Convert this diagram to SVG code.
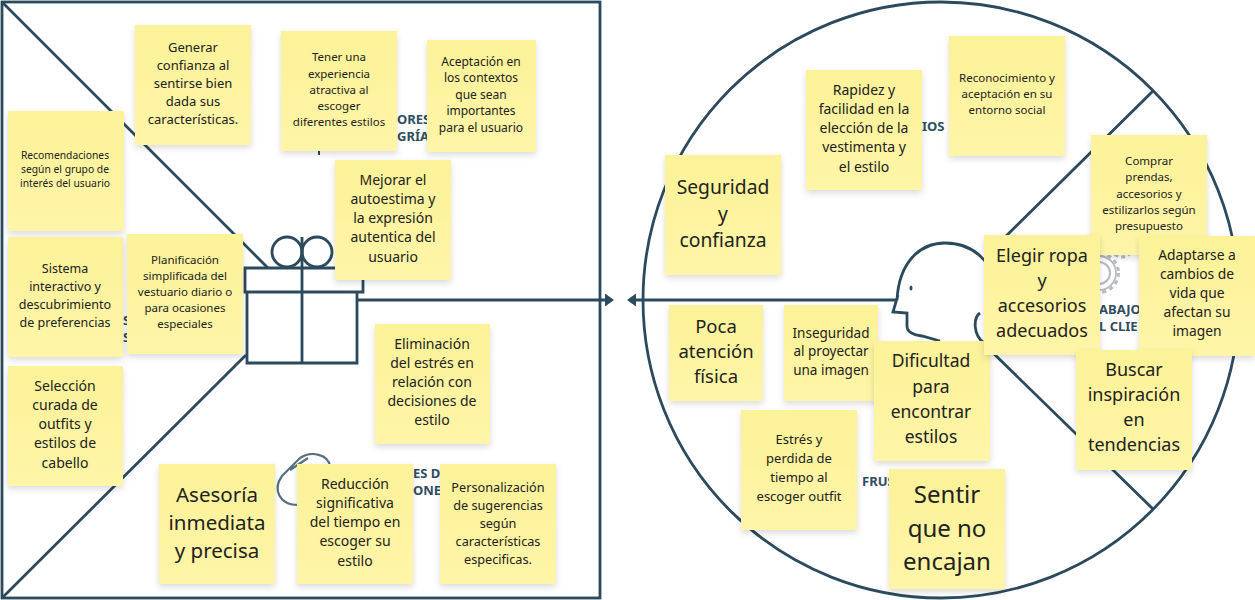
<svg xmlns="http://www.w3.org/2000/svg" width="1255" height="600" viewBox="0 0 1255 600">
<style>
.l{fill:none;stroke:#2b4a5c;stroke-width:2.8}
.f{font-family:"Noto Sans","Open Sans",sans-serif;font-weight:700;fill:#2f4d5f;font-size:13px}
.n rect{fill:url(#g);filter:url(#s)}
.n text{font-family:"Noto Sans","Open Sans",sans-serif;fill:#222;text-anchor:middle}
.g{fill:none;stroke:#b4bdc2}
</style>
<defs>
<linearGradient id="g" x1="0" y1="0" x2="0" y2="1"><stop offset="0" stop-color="#fcf298"/><stop offset="1" stop-color="#fff5a8"/></linearGradient>
<filter id="s" x="-10%" y="-10%" width="120%" height="125%"><feDropShadow dx="0" dy="3" stdDeviation="3" flood-color="#000" flood-opacity=".14"/></filter>
</defs>
<rect width="1255" height="600" fill="#fff"/>
<g id="connectors">
<rect class="l" x="2" y="2" width="598" height="596"/>
<path class="l" d="M2 2L268 268M246 355L2 598M357 300H606"/>
<path d="M605 293.500l9 6.500l-9 6.500z" fill="#2b4a5c"/>
<circle class="l" cx="941" cy="300" r="298"/>
<path class="l" d="M1153 91L1000 242M990 350L1153 509M635 300H897"/>
<path d="M636 293.500l-9 6.500l9 6.500z" fill="#2b4a5c"/>
</g>
<g id="icons">
<path class="l" d="M245 268H363V292H245zM247 292H357V363H247zM302 237V363"/>
<circle class="l" cx="287" cy="252" r="15"/>
<circle class="l" cx="317" cy="252" r="15"/>
<path class="l" d="M897 300C899 262 920 243 945 243C965 243 980 252 990 268M898 295L893 312L907 313V326C907 332 914 335 922 336L940 341M980 313C973 318 973 335 984 343"/>
<ellipse cx="911" cy="288" rx="1.500" ry="2.500" fill="#2b4a5c"/>
<path d="M298 505C280 505 272 490 282 476L300 458C312 450 328 455 330 466M290 470L308 458" fill="none" stroke="#55707f" stroke-width="2.2"/>
<circle class="g" cx="1099" cy="273" r="11" stroke-width="2.200"/>
<circle class="g" cx="1099" cy="273" r="17" stroke-width="1.800"/>
<circle class="g" cx="1099" cy="273" r="19.500" stroke-width="3" stroke-dasharray="4 3.700"/>
<circle class="g" cx="1122" cy="246" r="11" stroke-width="3" stroke-dasharray="4 3"/>
<path d="M319 151V155" stroke="#2b4a5c" stroke-width="2"/>
</g>
<g id="labels">
<text class="f" x="397" y="124">ORES</text>
<text class="f" x="397" y="141">GRÍA</text>
<text class="f" x="922" y="131">IOS</text>
<text class="f" x="123" y="325">S</text>
<text class="f" x="123" y="342">S</text>
<text class="f" x="413" y="478">ES D</text>
<text class="f" x="413" y="495">ONES</text>
<text class="f" x="862" y="486">FRUS</text>
<text class="f" x="1099" y="314">ABAJO</text>
<text class="f" x="1099" y="331">L CLIE</text>
</g>
<g id="n1" class="n"><rect x="135" y="25" width="116" height="120"/><text font-size="13"><tspan x="193" y="52">Generar</tspan><tspan x="193" y="70">confianza al</tspan><tspan x="193" y="88">sentirse bien</tspan><tspan x="193" y="106">dada sus</tspan><tspan x="193" y="124">características.</tspan></text></g>
<g id="n2" class="n"><rect x="281" y="31" width="116" height="120"/><text font-size="11.500"><tspan x="339" y="61">Tener una</tspan><tspan x="339" y="77.500">experiencia</tspan><tspan x="339" y="94">atractiva al</tspan><tspan x="339" y="110">escoger</tspan><tspan x="339" y="126">diferentes estilos</tspan></text></g>
<g id="n3" class="n"><rect x="427" y="40" width="109" height="112"/><text font-size="12"><tspan x="481" y="66">Aceptación en</tspan><tspan x="481" y="82">los contextos</tspan><tspan x="481" y="99">que sean</tspan><tspan x="481" y="115">importantes</tspan><tspan x="481" y="132">para el usuario</tspan></text></g>
<g id="n4" class="n"><rect x="8" y="111" width="116" height="120"/><text font-size="10.300"><tspan x="65" y="159">Recomendaciones</tspan><tspan x="65" y="173">según el grupo de</tspan><tspan x="65" y="187">interés del usuario</tspan></text></g>
<g id="n5" class="n"><rect x="8" y="237" width="115" height="120"/><text font-size="12.500"><tspan x="65" y="273">Sistema</tspan><tspan x="65" y="291">interactivo y</tspan><tspan x="65" y="309">descubrimiento</tspan><tspan x="65" y="327">de preferencias</tspan></text></g>
<g id="n6" class="n"><rect x="127" y="234" width="116" height="120"/><text font-size="11.500"><tspan x="185" y="264">Planificación</tspan><tspan x="185" y="280">simplificada del</tspan><tspan x="185" y="296">vestuario diario o</tspan><tspan x="185" y="312">para ocasiones</tspan><tspan x="185" y="328">especiales</tspan></text></g>
<g id="n7" class="n"><rect x="8" y="366" width="115" height="120"/><text font-size="14"><tspan x="65" y="391">Selección</tspan><tspan x="65" y="410">curada de</tspan><tspan x="65" y="429">outfits y</tspan><tspan x="65" y="448">estilos de</tspan><tspan x="65" y="468">cabello</tspan></text></g>
<g id="n8" class="n"><rect x="335" y="160" width="116" height="120"/><text font-size="14"><tspan x="393" y="185">Mejorar el</tspan><tspan x="393" y="204">autoestima y</tspan><tspan x="393" y="223">la expresión</tspan><tspan x="393" y="242">autentica del</tspan><tspan x="393" y="262">usuario</tspan></text></g>
<g id="n9" class="n"><rect x="375" y="324" width="115" height="120"/><text font-size="14"><tspan x="432" y="349">Eliminación</tspan><tspan x="432" y="368">del estrés en</tspan><tspan x="432" y="387">relación con</tspan><tspan x="432" y="406">decisiones de</tspan><tspan x="432" y="425">estilo</tspan></text></g>
<g id="n10" class="n"><rect x="159" y="464" width="116" height="120"/><text font-size="20.500"><tspan x="217" y="502">Asesoría</tspan><tspan x="217" y="530">inmediata</tspan><tspan x="217" y="558">y precisa</tspan></text></g>
<g id="n11" class="n"><rect x="297" y="464" width="116" height="120"/><text font-size="14"><tspan x="355" y="489">Reducción</tspan><tspan x="355" y="508">significativa</tspan><tspan x="355" y="527">del tiempo en</tspan><tspan x="355" y="546">escoger su</tspan><tspan x="355" y="566">estilo</tspan></text></g>
<g id="n12" class="n"><rect x="440" y="464" width="116" height="120"/><text font-size="12.700"><tspan x="498" y="492">Personalización</tspan><tspan x="498" y="510">de sugerencias</tspan><tspan x="498" y="528">según</tspan><tspan x="498" y="546">características</tspan><tspan x="498" y="564">especificas.</tspan></text></g>
<g id="n13" class="n"><rect x="806" y="70" width="116" height="120"/><text font-size="14"><tspan x="864" y="95">Rapidez y</tspan><tspan x="864" y="114">facilidad en la</tspan><tspan x="864" y="133">elección de la</tspan><tspan x="864" y="152">vestimenta y</tspan><tspan x="864" y="172">el estilo</tspan></text></g>
<g id="n14" class="n"><rect x="949" y="36" width="116" height="120"/><text font-size="11.500"><tspan x="1007" y="82">Reconocimiento y</tspan><tspan x="1007" y="98">aceptación en su</tspan><tspan x="1007" y="114">entorno social</tspan></text></g>
<g id="n15" class="n"><rect x="665" y="155" width="116" height="120"/><text font-size="19.300"><tspan x="723" y="194">Seguridad</tspan><tspan x="723" y="221">y</tspan><tspan x="723" y="247">confianza</tspan></text></g>
<g id="n16" class="n"><rect x="669" y="305" width="94" height="96"/><text font-size="18.500"><tspan x="716" y="333">Poca</tspan><tspan x="716" y="358">atención</tspan><tspan x="716" y="383">física</tspan></text></g>
<g id="n17" class="n"><rect x="784" y="305" width="94" height="96"/><text font-size="13.500"><tspan x="831" y="338">Inseguridad</tspan><tspan x="831" y="356">al proyectar</tspan><tspan x="831" y="375">una imagen</tspan></text></g>
<g id="n18" class="n"><rect x="874" y="341" width="116" height="120"/><text font-size="17.500"><tspan x="931" y="367">Dificultad</tspan><tspan x="931" y="393">para</tspan><tspan x="931" y="418">encontrar</tspan><tspan x="931" y="443">estilos</tspan></text></g>
<g id="n19" class="n"><rect x="741" y="410" width="116" height="120"/><text font-size="13"><tspan x="799" y="444">Estrés y</tspan><tspan x="799" y="463">perdida de</tspan><tspan x="799" y="482">tiempo al</tspan><tspan x="799" y="501">escoger outfit</tspan></text></g>
<g id="n20" class="n"><rect x="889" y="469" width="116" height="120"/><text font-size="24"><tspan x="947" y="503">Sentir</tspan><tspan x="947" y="537">que no</tspan><tspan x="947" y="570">encajan</tspan></text></g>
<g id="n21" class="n"><rect x="1091" y="135" width="116" height="120"/><text font-size="11.500"><tspan x="1149" y="165">Comprar</tspan><tspan x="1149" y="181">prendas,</tspan><tspan x="1149" y="198">accesorios y</tspan><tspan x="1149" y="214">estilizarlos según</tspan><tspan x="1149" y="230">presupuesto</tspan></text></g>
<g id="n22" class="n"><rect x="984" y="235" width="116" height="120"/><text font-size="18"><tspan x="1042" y="262">Elegir ropa</tspan><tspan x="1042" y="287">y</tspan><tspan x="1042" y="312">accesorios</tspan><tspan x="1042" y="337">adecuados</tspan></text></g>
<g id="n23" class="n"><rect x="1139" y="236" width="116" height="120"/><text font-size="13.800"><tspan x="1197" y="260">Adaptarse a</tspan><tspan x="1197" y="279">cambios de</tspan><tspan x="1197" y="298">vida que</tspan><tspan x="1197" y="317">afectan su</tspan><tspan x="1197" y="336">imagen</tspan></text></g>
<g id="n24" class="n"><rect x="1076" y="350" width="116" height="120"/><text font-size="18"><tspan x="1134" y="376">Buscar</tspan><tspan x="1134" y="401">inspiración</tspan><tspan x="1134" y="426">en</tspan><tspan x="1134" y="451">tendencias</tspan></text></g>
</svg>
